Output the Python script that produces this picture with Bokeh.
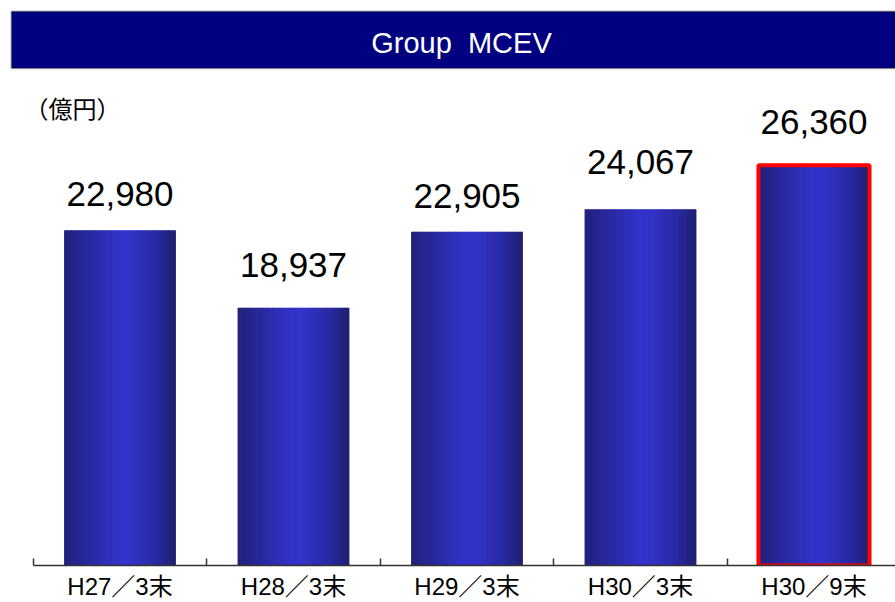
from bokeh.plotting import figure
from bokeh.models import ColumnDataSource, FixedTicker, BoxAnnotation, Label, Range1d
from bokeh.core.properties import value
from bokeh.embed import file_html
from bokeh.resources import INLINE

# ---- data ----
categories = ["H27／3末", "H28／3末", "H29／3末", "H30／3末", "H30／9末"]
values = [22980, 18937, 22905, 24067, 26360]
highlight = [False, False, False, False, True]
title_text = "Group \u00a0MCEV"
unit_text = "（億円）"

# ---- layout (pixels) ----
W, H = 895, 602
FRAME_H = 567
Y_START = 5500
PX_PER_UNIT = 0.01925
Y_END = Y_START + FRAME_H / PX_PER_UNIT
BAND_PX = 173.5
FIRST_CENTER_PX = 119.5
X_START = -FIRST_CENTER_PX / BAND_PX
X_END = X_START + W / BAND_PX
BAR_W = 0.64
# distance (px) from bar top to the middle of its value label
label_gap_px = [36, 43, 36, 47, 43]


def xd(px):
    return X_START + px / BAND_PX


def yd(px):
    return Y_END - px / PX_PER_UNIT


# gradient stops for bar fill (position, rgb)
stops = [(0.0, (33, 33, 122)), (0.15, (38, 38, 148)), (0.5, (51, 51, 204)),
         (0.58, (51, 51, 202)), (0.85, (40, 40, 158)), (1.0, (31, 31, 112))]


def grad(t):
    for (t0, c0), (t1, c1) in zip(stops[:-1], stops[1:]):
        if t0 <= t <= t1:
            f = (t - t0) / (t1 - t0)
            r, g, b = [int(round(a + (bb - a) * f)) for a, bb in zip(c0, c1)]
            return "#%02x%02x%02x" % (r, g, b)
    return "#%02x%02x%02x" % stops[-1][1]


p = figure(width=W, height=H, output_backend="svg", toolbar_location=None,
           x_range=Range1d(X_START, X_END), y_range=Range1d(Y_START, Y_END),
           min_border_left=0, min_border_right=0, min_border_top=0,
           min_border_bottom=H - FRAME_H)
p.outline_line_color = None
p.xgrid.visible = False
p.ygrid.visible = False
p.yaxis.visible = False
p.background_fill_color = "white"
p.border_fill_color = "white"

# title bar
p.add_layout(BoxAnnotation(left=xd(11), right=None, top=yd(11), bottom=yd(68),
                           fill_color="#000080", fill_alpha=1.0,
                           line_color="#000000", line_width=2, level="underlay"))
p.add_layout(Label(x=xd(461), y=yd(43), text=title_text, text_align="center",
                   text_baseline="middle", text_color="white",
                   text_font="Liberation Sans", text_font_size="29px"))
p.add_layout(Label(x=xd(24), y=yd(107), text=unit_text, text_align="left",
                   text_baseline="middle", text_color="black",
                   text_font="Noto Sans CJK JP", text_font_size="24px"))

# gradient bars as thin strips
N = 48
sx, stop_, scol = [], [], []
for i, v in enumerate(values):
    for j in range(N):
        t = (j + 0.5) / N
        sx.append(i - BAR_W / 2 + t * BAR_W)
        stop_.append(v)
        scol.append(grad(t))
strip_src = ColumnDataSource(dict(x=sx, top=stop_, color=scol))
p.vbar(x="x", top="top", bottom=Y_START, width=BAR_W / N * 1.35,
       fill_color="color", line_color=None, source=strip_src)

# highlight border
hx = [i for i, h in enumerate(highlight) if h]
hv = [values[i] for i in hx]
p.vbar(x=hx, top=hv, bottom=Y_START, width=BAR_W, fill_color=None,
       line_color="#ff0000", line_width=4)

# value labels
lab_src = ColumnDataSource(dict(x=list(range(len(values))), y=values,
                                text=["{:,}".format(v) for v in values],
                                off=[-g for g in label_gap_px]))
p.text(x="x", y="y", text="text", y_offset="off", source=lab_src,
       text_align="center", text_baseline="middle", text_color="black",
       text_font=value("Liberation Sans"), text_font_size="35px")

# x axis: labels at centres, ticks at boundaries
centers = list(range(len(categories)))
bounds = [c - 0.5 for c in centers]
ax = p.xaxis[0]
ax.ticker = FixedTicker(ticks=centers, minor_ticks=bounds)
ax.major_label_overrides = {c: lab for c, lab in zip(centers, categories)}
ax.bounds = (-0.5, X_END)
ax.axis_line_color = "#333333"
ax.axis_line_width = 1.5
ax.major_tick_line_color = None
ax.major_tick_in = 0
ax.major_tick_out = 0
ax.minor_tick_line_color = "#333333"
ax.minor_tick_line_width = 1.5
ax.minor_tick_in = 7
ax.minor_tick_out = 0
ax.major_label_standoff = 7
ax.major_label_text_font = "Liberation Sans, Noto Sans CJK JP"
ax.major_label_text_font_size = "24px"
ax.major_label_text_color = "black"

open("out.html", "w").write(file_html(p, INLINE))
